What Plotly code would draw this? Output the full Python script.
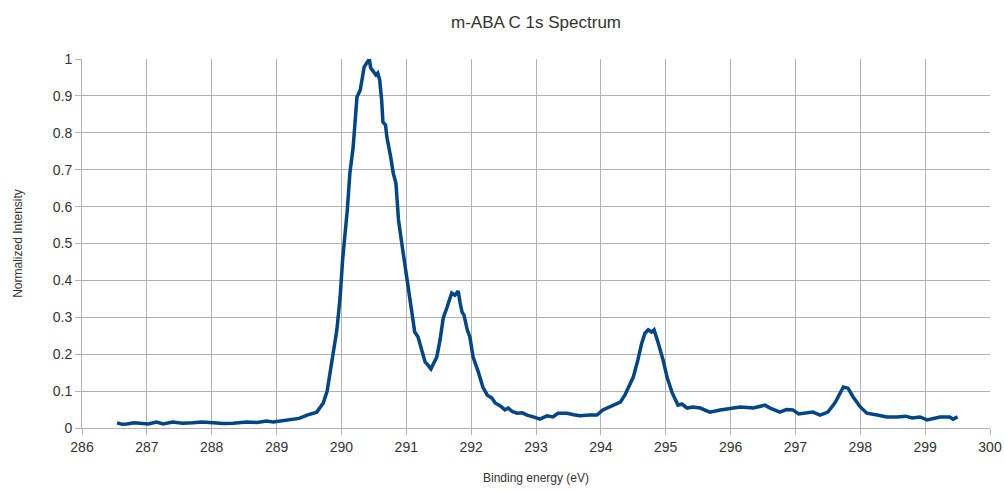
import plotly.graph_objects as go

binding_energy = [
    286.54, 286.62, 286.69, 286.80, 286.89, 287.02, 287.15, 287.25, 287.40, 287.55,
    287.71, 287.85, 288.02, 288.18, 288.33, 288.45, 288.54, 288.70, 288.85, 288.95,
    289.05, 289.15, 289.25, 289.35, 289.47, 289.55, 289.62, 289.72, 289.78, 289.87,
    289.93, 289.98, 290.02, 290.09, 290.13, 290.18, 290.24, 290.29, 290.31, 290.35,
    290.39, 290.43, 290.45, 290.49, 290.53, 290.56, 290.59, 290.62, 290.64, 290.68,
    290.70, 290.76, 290.80, 290.84, 290.88, 290.93, 291.00, 291.06, 291.13, 291.18,
    291.24, 291.29, 291.33, 291.38, 291.41, 291.47, 291.52, 291.57, 291.63, 291.67,
    291.70, 291.75, 291.80, 291.83, 291.86, 291.89, 291.94, 291.98, 292.03, 292.11,
    292.18, 292.25, 292.32, 292.37, 292.45, 292.52, 292.57, 292.64, 292.71, 292.79,
    292.86, 292.96, 293.06, 293.17, 293.26, 293.34, 293.48, 293.58, 293.68, 293.83,
    293.94, 294.03, 294.19, 294.30, 294.37, 294.42, 294.50, 294.57, 294.63, 294.68,
    294.73, 294.78, 294.82, 294.88, 294.96, 295.02, 295.10, 295.19, 295.25, 295.33,
    295.42, 295.53, 295.68, 295.84, 296.04, 296.15, 296.35, 296.53, 296.61, 296.76,
    296.86, 296.96, 297.05, 297.12, 297.27, 297.38, 297.50, 297.61, 297.69, 297.74,
    297.81, 297.89, 298.00, 298.10, 298.26, 298.41, 298.57, 298.70, 298.80, 298.92,
    299.03, 299.23, 299.38, 299.43, 299.50,
]
intensity = [
    0.014, 0.010, 0.011, 0.014, 0.013, 0.011, 0.016, 0.011, 0.016, 0.013,
    0.014, 0.016, 0.014, 0.012, 0.013, 0.016, 0.016, 0.015, 0.019, 0.016,
    0.019, 0.020, 0.024, 0.026, 0.035, 0.038, 0.043, 0.068, 0.100, 0.200,
    0.266, 0.355, 0.460, 0.590, 0.690, 0.760, 0.897, 0.916, 0.938, 0.978,
    0.989, 1.000, 0.976, 0.965, 0.957, 0.962, 0.943, 0.889, 0.829, 0.821,
    0.789, 0.734, 0.690, 0.664, 0.564, 0.501, 0.420, 0.345, 0.260, 0.247,
    0.206, 0.179, 0.171, 0.160, 0.171, 0.192, 0.238, 0.298, 0.328, 0.355,
    0.366, 0.360, 0.371, 0.339, 0.314, 0.306, 0.266, 0.247, 0.192, 0.152,
    0.111, 0.089, 0.081, 0.068, 0.060, 0.049, 0.054, 0.044, 0.040, 0.041,
    0.035, 0.030, 0.024, 0.033, 0.030, 0.040, 0.040, 0.036, 0.033, 0.035,
    0.035, 0.049, 0.060, 0.070, 0.089, 0.108, 0.138, 0.184, 0.230, 0.257,
    0.266, 0.260, 0.266, 0.233, 0.184, 0.138, 0.095, 0.062, 0.065, 0.054,
    0.057, 0.054, 0.043, 0.049, 0.054, 0.057, 0.054, 0.062, 0.054, 0.043,
    0.050, 0.049, 0.038, 0.040, 0.043, 0.035, 0.043, 0.068, 0.095, 0.111,
    0.108, 0.084, 0.057, 0.040, 0.035, 0.030, 0.030, 0.032, 0.027, 0.030,
    0.022, 0.030, 0.030, 0.024, 0.030,
]

x_ticks = list(range(286, 301))
y_ticks = [0, 0.1, 0.2, 0.3, 0.4, 0.5, 0.6, 0.7, 0.8, 0.9, 1]
y_tick_labels = ["0", "0.1", "0.2", "0.3", "0.4", "0.5", "0.6", "0.7", "0.8", "0.9", "1"]

fig = go.Figure()
fig.add_trace(go.Scatter(
    x=binding_energy, y=intensity, mode="lines",
    line=dict(color="#004586", width=3.5),
    showlegend=False,
))

grid = "#b3b3b3"
fig.update_layout(
    width=1005, height=490,
    margin=dict(l=82, r=15, t=59, b=62, autoexpand=False),
    paper_bgcolor="white", plot_bgcolor="white",
    font=dict(family="Liberation Sans, Arial, sans-serif", color="#333333"),
    title=dict(text="m-ABA C 1s Spectrum", x=0.5, xref="paper", y=0.956, yref="container",
               xanchor="center", yanchor="middle",
               font=dict(size=17, color="#333333")),
    xaxis=dict(
        range=[286, 300], tickvals=x_ticks, ticktext=[str(v) for v in x_ticks],
        showgrid=True, gridcolor=grid, gridwidth=1,
        showline=True, linecolor=grid, linewidth=1,
        ticks="outside", ticklen=6, tickcolor=grid,
        zeroline=False, tickfont=dict(size=14, color="#333333"),
        automargin=False,
        title=dict(text="Binding energy (eV)", font=dict(size=12, color="#333333"), standoff=19),
    ),
    yaxis=dict(
        range=[0, 1], tickvals=y_ticks, ticktext=y_tick_labels,
        showgrid=True, gridcolor=grid, gridwidth=1,
        showline=True, linecolor=grid, linewidth=1,
        ticks="outside", ticklen=6, tickcolor=grid,
        zeroline=False, tickfont=dict(size=14, color="#333333"),
        automargin=False,
        title=dict(text="Normalized Intensity", font=dict(size=12, color="#333333"), standoff=27),
    ),
)

fig.write_html("out.html")
